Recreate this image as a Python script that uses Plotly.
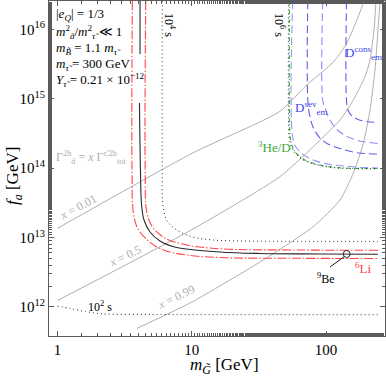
import math
import plotly.graph_objects as go

# ---------------- data (m_G in GeV, f_a in GeV) ----------------
# gray contours  Gamma_a^2b = x Gamma_tot
x001_m = [1.0, 10.2, 45.4, 71.8, 101, 117, 143, 164, 185, 190]
x001_f = [1.36e13, 1.66e14, 6.6e14, 1.58e15, 2.75e15, 3.63e15, 6.36e15, 1.16e16, 2.1e16, 2.56e16]
x05_m = [1.0, 10.22, 45.4, 80.4, 127.2, 159.7, 195.2, 212.7, 227.8, 235.8]
x05_f = [1.24e12, 1.33e13, 7.55e13, 2.04e14, 4.95e14, 9.61e14, 2.08e15, 3.63e15, 9.79e15, 2.56e16]
x099_m = [3.91, 9.7, 34.1, 80.4, 127.2, 159.7, 189.6, 212.7, 231.7, 243.9, 252.5]
x099_f = [4.93e11, 1.14e12, 4.76e12, 1.44e13, 3.48e13, 8.45e13, 2.28e14, 6.9e14, 2.6e15, 9.79e15, 2.56e16]

# 9Be bound (black solid, drawn in two pieces)
be_m = [4.12, 4.12, None, 4.08, 4.15, 4.23, 4.41, 4.89, 5.80, 7.73, 16.2, 32.2, 90.2, 243.9]
be_f = [2.56e16, 4.42e15, None, 8.7e14, 9.42e13, 2.95e13, 1.79e13, 1.205e13, 8.93e12, 7.19e12,
        6.21e12, 5.9e12, 5.8e12, 5.74e12]

# 6Li bounds (red dash-dot)
li_out_m = [3.61, 3.59, 3.67, 3.94, 4.62, 6.0, 9.17, 16.2, 64.0, 243.9]
li_out_f = [2.56e16, 9.42e13, 2.34e13, 1.374e13, 9.39e12, 6.74e12, 5.61e12, 5.16e12, 5.03e12, 5.0e12]
li_in_m = [4.54, 4.50, 4.62, 5.10, 6.32, 9.17, 16.2, 64.0, 243.9]
li_in_f = [2.56e16, 9.42e13, 2.34e13, 1.42e13, 9.86e12, 7.82e12, 6.9e12, 6.62e12, 6.56e12]

# lifetime contours (black dotted)
t2_m = [1.0, 1.24, 1.60, 2.18, 4.89, 243.9]
t2_f = [1.03e12, 9.51e11, 8.61e11, 7.93e11, 7.8e11, 7.74e11]
t4_m = [6.03, 6.03, 6.08, 6.51, 7.73, 10.2, 14.4, 27.2, 243.9]
t4_f = [2.56e16, 9.42e13, 3.15e13, 1.79e13, 1.29e13, 1.02e13, 9.23e12, 8.9e12, 8.8e12]
t6_m = [52.6, 52.6, 53.3, 55.8, 60.8, 69.8, 89.0, 126, 243.9]
t6_f = [2.56e16, 4.95e14, 2.72e14, 1.95e14, 1.55e14, 1.27e14, 1.10e14, 1.0e14, 9.8e13]

# 3He/D (green)
he_m = [53.5, 53.5, 54.2, 56.8, 61.9, 71.0, 90.2, 127.2, 243.9]
he_f = [2.56e16, 4.95e14, 2.72e14, 1.95e14, 1.55e14, 1.29e14, 1.11e14, 1.014e14, 9.9e13]

# D_em bounds (blue dashed)
d1_m = [56.5, 56.5, 60.5, 71.8, 95.5, 150.9, 243.9]
d1_f = [2.56e16, 2.84e14, 1.94e14, 1.46e14, 1.18e14, 1.057e14, 1.007e14]
d2_m = [73.1, 73.1, 75.4, 80.0, 88.7, 101.7, 127.2, 167.3, 243.9]
d2_f = [2.56e16, 1.03e15, 5.85e14, 3.93e14, 2.82e14, 2.27e14, 1.92e14, 1.68e14, 1.60e14]
d3_m = [94.5, 94.5, 98.3, 107.1, 120.8, 143.3, 179.2, 243.9]
d3_f = [2.56e16, 9.61e14, 7.36e14, 4.95e14, 3.61e14, 2.86e14, 2.47e14, 2.27e14]
d4_m = [142.1, 142.1, 145.9, 156.2, 173.2, 198.6, 243.9]
d4_f = [2.56e16, 9.61e14, 6.9e14, 5.65e14, 5.04e14, 4.71e14, 4.56e14]

# 9Be marker and leader
be_pt_m = [142.6]
be_pt_f = [5.8e12]
be_lead_m = [107.1, 137.3]
be_lead_f = [3.77e12, 5.35e12]

x_ticks = [1, 10, 100]
x_ticktext = ["1", "10", "100"]
y_ticks = [1e12, 1e13, 1e14, 1e15, 1e16]
y_ticktext = ["10<sup>12</sup>", "10<sup>13</sup>", "10<sup>14</sup>", "10<sup>15</sup>", "10<sup>16</sup>"]

# ---------------- styling ----------------
FONT = "Liberation Serif"
GRAY = "rgb(175,175,175)"
RED = "rgb(255,70,70)"
GREEN = "rgb(60,170,60)"
W, H = 386, 376
L, R, T, B = 49, 385, 1, 336

fig = go.Figure()


def add(m, f, color, width=1.0, dash="solid", smooth=0.6):
    fig.add_trace(go.Scatter(x=m, y=f, mode="lines", line=dict(color=color, width=width, dash=dash,
                                                                  shape="spline", smoothing=smooth),
                             hoverinfo="skip", showlegend=False, connectgaps=False))


add(x001_m, x001_f, GRAY, 1.0)
add(x05_m, x05_f, GRAY, 1.0)
add(x099_m, x099_f, GRAY, 1.0)
add(t2_m, t2_f, "rgb(40,40,40)", 1.0, "1px,3px")
add(t4_m, t4_f, "rgb(40,40,40)", 1.0, "1px,3px", 1.0)
add(d4_m, d4_f, "rgb(95,95,235)", 1.1, "8px,4px", 1.0)
add(d3_m, d3_f, "rgb(140,140,255)", 1.1, "8px,4px", 1.0)
add(d2_m, d2_f, "rgb(95,95,235)", 1.1, "8px,4px", 1.0)
add(d1_m, d1_f, "rgb(150,150,255)", 1.1, "8px,4px", 1.0)
add(he_m, he_f, GREEN, 1.2, "4px,2px,1px,2px", 1.0)
add(t6_m, t6_f, "rgb(40,40,40)", 1.0, "1px,3px", 1.0)
add(li_out_m, li_out_f, RED, 1.1, "9px,2px,1.5px,2px", 1.0)
add(li_in_m, li_in_f, RED, 1.1, "9px,2px,1.5px,2px", 1.0)
add(be_m, be_f, "rgb(40,40,40)", 1.1, "solid", 1.0)
add(be_lead_m, be_lead_f, "rgb(20,20,20)", 1.0)
fig.add_trace(go.Scatter(x=be_pt_m, y=be_pt_f, mode="markers",
                         marker=dict(symbol="circle-open", size=7, color="rgb(40,40,40)", line=dict(width=1)),
                         hoverinfo="skip", showlegend=False))


def P(xp, yp):
    return (xp - L) / (R - L), (B - yp) / (B - T)


def label(text, xp, yp, size=13, color="black", angle=0, xanchor="center"):
    x, y = P(xp, yp)
    fig.add_annotation(x=x, y=y, xref="paper", yref="paper", text=text, showarrow=False,
                       font=dict(family=FONT, size=size, color=color), textangle=angle,
                       xanchor=xanchor, yanchor="middle")


tau = "<i>τ̃</i>"
label("|<i>e</i><sub><i>Q</i></sub>| = 1/3", 54, 15, xanchor="left")
label("<i>m</i><sup>2</sup><sub><i>ã</i></sub>/<i>m</i><sup>2</sup><sub>" + tau + "</sub> ≪ 1", 54, 32, xanchor="left")
label("<i>m</i><sub><i>B̃</i></sub> = 1.1 <i>m</i><sub>" + tau + "</sub>", 54, 48, xanchor="left")
label("<i>m</i><sub>" + tau + "</sub> = 300 GeV", 54, 64, xanchor="left")
label("<i>Y</i><sub>" + tau + "</sub> = 0.21 × 10<sup>−12</sup>", 54, 80, xanchor="left")
label("Γ<sup>2b</sup><sub><i>ã</i></sub> = <i>x</i> Γ<sup>" + tau + ",2b</sup><sub>tot</sub>", 54, 158,
      size=12, color=GRAY, xanchor="left")
label("<i>x</i> = 0.01", 78, 207, size=12, color=GRAY, angle=-28)
label("<i>x</i> = 0.5", 125, 256, size=12, color=GRAY, angle=-26)
label("<i>x</i> = 0.99", 176, 297, size=12, color=GRAY, angle=-26)
label("10<sup>2</sup> s", 100, 306, size=12)
label("10<sup>4</sup> s", 169, 25, size=12, angle=90)
label("10<sup>6</sup> s", 279, 25, size=12, angle=90)
label("<sup>3</sup>He/D", 274, 147, size=13, color=GREEN)
label("D<sup>cons</sup><sub>em</sub>", 363, 53, size=13, color="rgb(70,70,235)")
label("D<sup>sev</sup><sub>em</sub>", 311, 108, size=13, color="rgb(70,70,235)")
label("<sup>9</sup>Be", 326, 278, size=12)
label("<sup>6</sup>Li", 363, 268, size=13, color=RED)
label("<i>f<sub>a</sub></i> [GeV]", 14, 176, size=17, angle=-90)
label("<i>m</i><sub><i>G̃</i></sub> [GeV]", 224, 366, size=17)

axis_common = dict(type="log", showgrid=False, zeroline=False, showline=True, linecolor="rgb(90,90,90)",
                   linewidth=1, mirror="allticks", ticks="inside", ticklen=5, tickcolor="rgb(90,90,90)",
                   automargin=False,
                   tickfont=dict(family=FONT, size=15, color="black"),
                   minor=dict(ticks="inside", ticklen=3, tickcolor="rgb(90,90,90)", showgrid=False))

fig.update_layout(
    width=W, height=H, margin=dict(l=L, r=W - R, t=T, b=H - B),
    paper_bgcolor="white", plot_bgcolor="white",
    xaxis=dict(range=[-0.0633, 2.4395], tickmode="array", tickvals=x_ticks, ticktext=x_ticktext, **axis_common),
    yaxis=dict(range=[11.582, 16.409], tickmode="array", tickvals=y_ticks, ticktext=y_ticktext, **axis_common),
    font=dict(family=FONT),
)

fig.write_html("out.html", config={"displayModeBar": False},
               post_script="document.body.style.margin='0px';document.body.style.overflow='hidden';")
